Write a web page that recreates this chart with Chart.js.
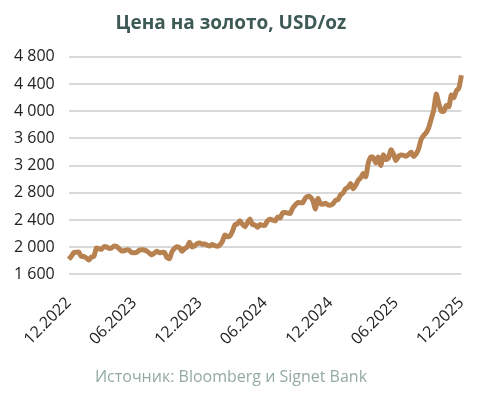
<!DOCTYPE html>
<html>
<head>
<meta charset="utf-8">
<script src="https://cdn.jsdelivr.net/npm/chart.js@4"></script>
<style>
    html, body { margin: 0; padding: 0; background: #fff; }
    #wrap { width: 486px; height: 395px; }
</style>
</head>
<body>
<div id="wrap"><canvas id="chartGold"></canvas></div>
<script>
// недельные цены, с 30.12.2022 по 26.12.2025
const prices2023 = [1824, 1865, 1920, 1926, 1928, 1865, 1865, 1842, 1811, 1856, 1868, 1989, 1978, 1969,
    2007, 2004, 1983, 1990, 2017, 2011, 1978, 1946, 1948, 1961, 1958, 1921, 1919, 1925, 1955, 1962, 1959,
    1942, 1914, 1889, 1914, 1940, 1919, 1924, 1925, 1849, 1833, 1933, 1981, 2006, 1993, 1940, 1981, 2002,
    2072, 2005, 2020, 2053, 2063];
const prices2024 = [2045, 2049, 2029, 2018, 2039, 2024, 2013, 2035, 2083, 2179, 2155, 2165, 2230, 2329,
    2344, 2391, 2338, 2301, 2360, 2415, 2334, 2327, 2294, 2333, 2322, 2326, 2392, 2411, 2400, 2387, 2443,
    2431, 2507, 2512, 2503, 2497, 2577, 2622, 2658, 2653, 2657, 2721, 2747, 2736, 2684, 2563, 2716, 2643,
    2633, 2648, 2622, 2621];
const prices2025 = [2640, 2690, 2702, 2770, 2798, 2861, 2882, 2936, 2858, 2910, 2984, 3023, 3085, 3037,
    3237, 3327, 3319, 3241, 3325, 3203, 3357, 3289, 3310, 3433, 3368, 3274, 3337, 3355, 3350, 3337, 3363,
    3398, 3336, 3372, 3448, 3586, 3643, 3685, 3760, 3886, 4018, 4251, 4113, 4002, 4000, 4084, 4065, 4239,
    4200, 4300, 4340, 4530];
const tickLabels = ["12.2022", "06.2023", "12.2023", "06.2024", "12.2024", "06.2025", "12.2025"];
const weeksPerTick = 26;

const prices = [...prices2023, ...prices2024, ...prices2025];
const labels = prices.map((p, i) => i % weeksPerTick === 0 ? tickLabels[i / weeksPerTick] : "");

const FONT = "'Open Sans', sans-serif";

new Chart(document.getElementById("chartGold"), {
    type: "line",
    data: {
        labels: labels,
        datasets: [
            {
                label: "Цена на золото",
                data: prices,
                borderColor: "#b78150",
                borderWidth: 5,
                pointRadius: 0,
                tension: 0.2
            }
        ]
    },
    options: {
        responsive: true,
        maintainAspectRatio: false,
        animation: false,
        layout: { padding: { left: 0, right: 24, top: 4, bottom: 4 } },
        plugins: {
            legend: { display: false },
            tooltip: { enabled: false },
            title: {
                display: true,
                text: "Цена на золото, USD/oz",
                color: "#3e5a55",
                font: { family: FONT, size: 19, weight: "bold" },
                padding: { top: 8, bottom: 22 }
            },
            subtitle: {
                display: true,
                position: "bottom",
                text: "Источник: Bloomberg и Signet Bank",
                color: "#93aaa3",
                font: { family: FONT, size: 16 },
                padding: { top: 8, bottom: 4 }
            }
        },
        scales: {
            x: {
                grid: { display: false },
                border: { display: false },
                ticks: {
                    autoSkip: false,
                    maxRotation: 45,
                    minRotation: 45,
                    padding: 11,
                    color: "#222",
                    font: { family: FONT, size: 16 },
                    callback: function (value, index) {
                        return labels[index] || null;
                    }
                }
            },
            y: {
                min: 1600,
                max: 4800,
                border: { display: false },
                grid: { color: "#d9d9d9", lineWidth: 2, drawTicks: false },
                ticks: {
                    stepSize: 400,
                    padding: 14,
                    color: "#222",
                    font: { family: FONT, size: 16 },
                    callback: v => v.toLocaleString("ru-RU")
                }
            }
        }
    }
});
</script>
</body>
</html>
